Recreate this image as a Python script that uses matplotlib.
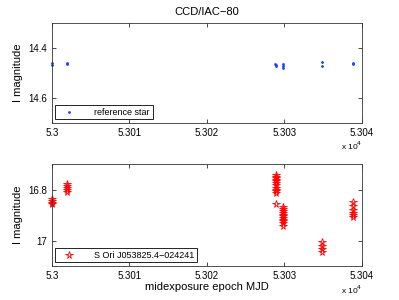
import matplotlib
matplotlib.use("Agg")
import matplotlib.pyplot as plt
from matplotlib.ticker import FuncFormatter

plt.rcParams["font.family"] = ["Liberation Sans", "DejaVu Sans"]
plt.rcParams["font.size"] = 7

# reference star (top panel)
ref_mjd = [53000.0, 53000.0, 53002.0, 53002.0,
           53028.85, 53028.9, 53028.9, 53029.8, 53029.8, 53029.85,
           53034.8, 53034.8, 53038.9, 53038.9]
ref_mag = [14.458, 14.466, 14.460, 14.465,
           14.462, 14.468, 14.473, 14.465, 14.472, 14.478,
           14.457, 14.470, 14.458, 14.463]

# S Ori J053825.4-024241 (bottom panel)
tgt_mjd = [53000.0, 53000.0, 53000.0, 53000.0,
           53002.0, 53002.0, 53002.0, 53002.0, 53002.0,
           53028.9, 53028.9, 53028.9, 53028.9, 53028.9, 53028.9, 53028.9, 53028.9,
           53028.9, 53028.9, 53028.9, 53028.9,
           53029.8, 53029.8, 53029.8, 53029.8, 53029.8, 53029.8, 53029.8, 53029.8,
           53029.8, 53029.8, 53029.8,
           53034.8, 53034.8, 53034.8, 53034.8,
           53038.9, 53038.9, 53038.9, 53038.9, 53038.9, 53038.9]
tgt_mag = [16.836, 16.845, 16.853, 16.858,
           16.778, 16.785, 16.792, 16.800, 16.808,
           16.742, 16.750, 16.756, 16.762, 16.768, 16.775, 16.782, 16.795,
           16.800, 16.806, 16.812, 16.855,
           16.870, 16.878, 16.885, 16.892, 16.898, 16.905, 16.912, 16.918,
           16.925, 16.932, 16.944,
           17.006, 17.022, 17.033, 17.043,
           16.850, 16.866, 16.880, 16.893, 16.900, 16.908]

xticks = [53000, 53010, 53020, 53030, 53040]
xfmt = FuncFormatter(lambda v, p: f"{v / 1e4:g}")

fig = plt.figure(figsize=(3.99, 3.00), dpi=100)
ax1 = fig.add_axes([0.130, 0.590, 0.777, 0.333])
ax2 = fig.add_axes([0.130, 0.113, 0.777, 0.340])

ax1.plot(ref_mjd, ref_mag, ".", color="#1f3fff", markersize=2, clip_on=False,
         label="reference star")
ax1.set_ylim(14.7, 14.3)
ax1.set_yticks([14.4, 14.6])
ax1.set_ylabel("I magnitude", fontsize=8)
ax1.set_title("CCD/IAC\u221280", fontsize=8)

ax2.plot(tgt_mjd, tgt_mag, "*", color="red", markerfacecolor="none",
         markersize=5.5, markeredgewidth=0.6, clip_on=False,
         label="S Ori J053825.4\u2212024241")
ax2.set_ylim(17.1, 16.7)
ax2.set_yticks([16.8, 17.0])
ax2.set_yticklabels(["16.8", "17"])
ax2.set_ylabel("I magnitude", fontsize=8)
ax2.set_xlabel("midexposure epoch MJD", fontsize=8, labelpad=1)

for ax in (ax1, ax2):
    ax.set_xlim(53000, 53040)
    ax.set_xticks(xticks)
    ax.xaxis.set_major_formatter(xfmt)
    ax.tick_params(direction="in", length=3, width=0.5, top=True, right=True, labelsize=7)
    for s in ax.spines.values():
        s.set_linewidth(0.6)
        s.set_color("#333333")
    ax.text(1.0, -0.17, "x 10$^4$", transform=ax.transAxes, ha="right", va="top", fontsize=6)
    leg = ax.legend(loc="lower left", fontsize=6.5, fancybox=False, framealpha=1,
                    edgecolor="black", handlelength=2.5, borderpad=0.3,
                    borderaxespad=0.4, handletextpad=1.5)
    leg.get_frame().set_linewidth(0.6)

fig.savefig("out.png", dpi=100)
